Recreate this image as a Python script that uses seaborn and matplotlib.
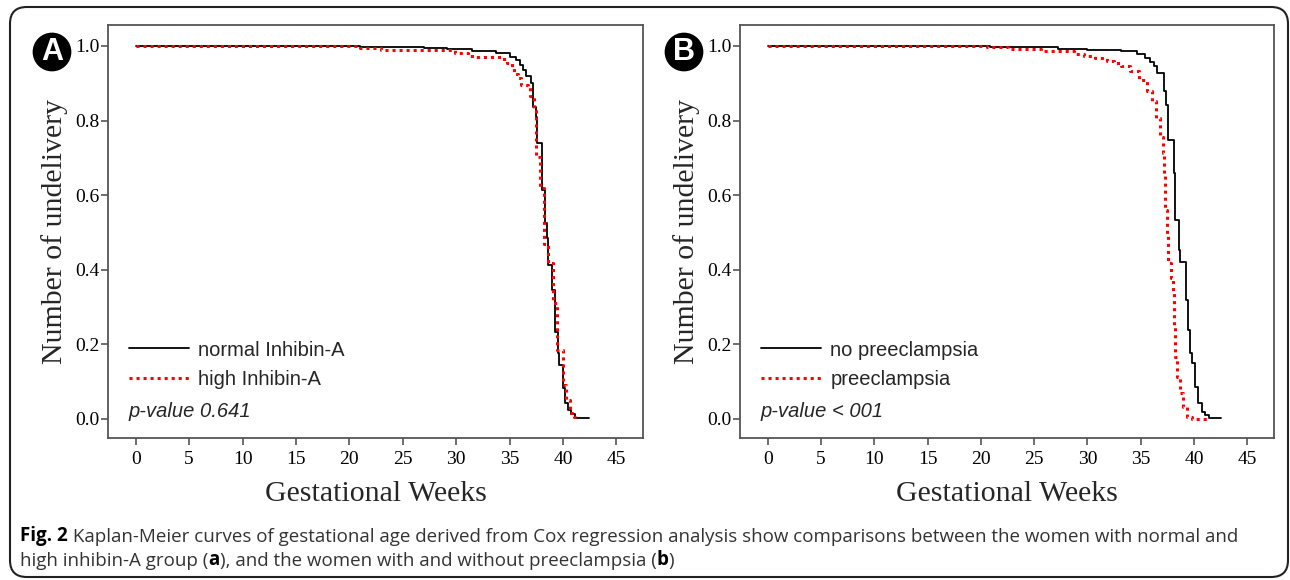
import numpy as np
import pandas as pd
import matplotlib
matplotlib.use('Agg')
import matplotlib.pyplot as plt
import seaborn as sns
from matplotlib.patches import FancyBboxPatch

# Kaplan-Meier step data (week, survival)
a_normal_t = [0, 21.0, 24.0, 27.0, 29.1, 31.5, 33.7, 35.0, 35.6, 36.0, 36.3, 36.55, 37.0, 37.2, 37.5,
              37.6, 38.05, 38.3, 38.5, 38.6, 39.0, 39.3, 39.5, 39.6, 40.05, 40.2, 40.5, 40.8, 41.1, 42.4]
a_normal_s = [1.0, 0.998, 0.996, 0.994, 0.992, 0.987, 0.980, 0.971, 0.962, 0.950, 0.935, 0.920, 0.900, 0.837, 0.810,
              0.740, 0.614, 0.525, 0.485, 0.413, 0.346, 0.234, 0.177, 0.145, 0.083, 0.043, 0.025, 0.012, 0.003, 0.003]
a_high_t = [0, 21.0, 23.0, 29.9, 31.1, 31.9, 34.2, 34.8, 35.2, 35.4, 35.8, 36.1, 36.75, 36.9, 37.3, 37.5,
            37.9, 38.2, 38.6, 39.1, 39.4, 40.0, 40.3, 40.7, 41.0, 41.2]
a_high_s = [1.0, 0.995, 0.989, 0.980, 0.974, 0.970, 0.965, 0.953, 0.940, 0.926, 0.915, 0.896, 0.890, 0.865, 0.834, 0.703,
            0.619, 0.470, 0.418, 0.310, 0.185, 0.090, 0.050, 0.015, 0.004, 0.004]
b_no_t = [0, 20.9, 24.0, 27.2, 30.0, 33.1, 34.6, 35.4, 35.9, 36.2, 36.5, 37.15, 37.4, 37.6, 38.15, 38.25,
          38.55, 38.7, 39.2, 39.4, 39.6, 39.8, 40.1, 40.35, 40.75, 41.0, 41.4, 42.5]
b_no_s = [1.0, 0.998, 0.996, 0.993, 0.990, 0.986, 0.977, 0.968, 0.958, 0.945, 0.927, 0.878, 0.842, 0.748, 0.659, 0.534,
          0.453, 0.422, 0.319, 0.239, 0.176, 0.149, 0.087, 0.042, 0.020, 0.010, 0.003, 0.003]
b_pe_t = [0, 20.6, 22.5, 25.6, 28.7, 29.65, 30.7, 31.8, 32.5, 33.1, 34.0, 34.8, 35.6, 36.05, 36.4, 36.8, 37.05,
          37.15, 37.3, 37.46, 37.6, 37.8, 38.0, 38.15, 38.25, 38.4, 38.7, 39.0, 39.3, 39.8, 41.2]
b_pe_s = [1.0, 0.997, 0.992, 0.987, 0.978, 0.973, 0.967, 0.960, 0.953, 0.945, 0.932, 0.909, 0.878, 0.851, 0.806, 0.757, 0.712,
          0.650, 0.560, 0.490, 0.418, 0.377, 0.337, 0.247, 0.167, 0.113, 0.069, 0.033, 0.006, 0.0, 0.0]

x_ticks = [0, 5, 10, 15, 20, 25, 30, 35, 40, 45]
y_ticks = [0.0, 0.2, 0.4, 0.6, 0.8, 1.0]

sns.set_theme(style='ticks')
plt.rcParams['font.family'] = ['Liberation Serif', 'DejaVu Serif']

fig = plt.figure(figsize=(12.9, 5.8), dpi=100)
W, H = 1290, 580

# rounded outer frame
frame = FancyBboxPatch((10 / W, 3 / H), 1278 / W, 570 / H,
                       boxstyle='round,pad=0,rounding_size=0.013', mutation_aspect=W / H,
                       transform=fig.transFigure, fill=False, edgecolor='#222222', linewidth=1.5)
fig.patches.append(frame)

ax_a = fig.add_axes([108 / W, (H - 438) / H, 535 / W, 413 / H])
ax_b = fig.add_axes([740 / W, (H - 438) / H, 534 / W, 413 / H])

panels = [
    (ax_a, a_normal_t, a_normal_s, 'normal Inhibin-A', a_high_t, a_high_s, 'high Inhibin-A', 'p-value 0.641', 'A', 52),
    (ax_b, b_no_t, b_no_s, 'no preeclampsia', b_pe_t, b_pe_s, 'preeclampsia', 'p-value < 001', 'B', 684),
]

for ax, t1, s1, l1, t2, s2, l2, ptxt, letter, cx in panels:
    d1 = pd.DataFrame({'week': t1, 'surv': s1})
    d2 = pd.DataFrame({'week': t2, 'surv': s2})
    sns.lineplot(data=d1, x='week', y='surv', ax=ax, color='black', linewidth=1.3,
                 drawstyle='steps-post', estimator=None, sort=False, label=l1)
    sns.lineplot(data=d2, x='week', y='surv', ax=ax, color='#ff0000', linewidth=2.2,
                 linestyle=(0, (1, 1.3)), drawstyle='steps-post', estimator=None, sort=False, label=l2)
    ax.set_xlim(-2.6, 47.5)
    ax.set_ylim(-0.051, 1.056)
    ax.set_xticks(x_ticks)
    ax.set_yticks(y_ticks)
    ax.set_yticklabels([f'{v:.1f}' for v in y_ticks])
    ax.tick_params(axis='both', direction='out', length=5, width=1.2, color='#555555',
                   labelsize=14, labelcolor='black')
    ax.tick_params(axis='y', pad=1)
    ax.tick_params(axis='x', pad=4)
    for sp in ax.spines.values():
        sp.set_visible(True)
        sp.set_color('#555555')
        sp.set_linewidth(1.3)
    ax.set_xlabel('Gestational Weeks', fontsize=21.5, labelpad=10)
    ax.set_ylabel('Number of undelivery', fontsize=21.5, labelpad=5)
    ax.legend(loc='upper left', bbox_to_anchor=(0.039, 0.236), frameon=False,
              borderpad=0, borderaxespad=0, handlelength=3.0, handletextpad=0.45,
              labelspacing=0.5, prop={'family': 'Liberation Sans', 'size': 14.5})
    ax.text(0.039, 0.064, ptxt, transform=ax.transAxes, fontsize=14.5, style='italic',
            family='Liberation Sans', va='center', ha='left')
    fig.text(cx / W, (H - 52) / H, letter, ha='center', va='center', color='white',
             fontsize=22, fontweight='bold', family='Liberation Sans',
             bbox=dict(boxstyle='circle,pad=0.12', fc='black', ec='black'))

# caption: pieces with mixed weights, each one anchored to the end of the previous one
cap_font = ['Open Sans', 'DejaVu Sans']
line1 = [('Fig. 2', 'bold', 'black'),
         (' Kaplan-Meier curves of gestational age derived from Cox regression analysis show comparisons '
          'between the women with normal and', 'normal', '#333333')]
line2 = [('high inhibin-A group (', 'normal', '#333333'), ('a', 'bold', 'black'),
         ('), and the women with and without preeclampsia (', 'normal', '#333333'),
         ('b', 'bold', 'black'), (')', 'normal', '#333333')]
for pieces, ypix in [(line1, 541), (line2, 566)]:
    prev = None
    for txt, wt, col in pieces:
        if prev is None:
            prev = fig.text(20 / W, (H - ypix) / H, txt, fontsize=13.5, fontweight=wt,
                            color=col, family=cap_font, va='baseline', ha='left')
        else:
            prev = fig.add_artist(plt.Annotation(txt, xy=(1, 0), xycoords=prev, va='bottom', ha='left',
                                                 fontsize=13.5, fontweight=wt, color=col, family=cap_font))

fig.savefig('out.png', dpi=100)
